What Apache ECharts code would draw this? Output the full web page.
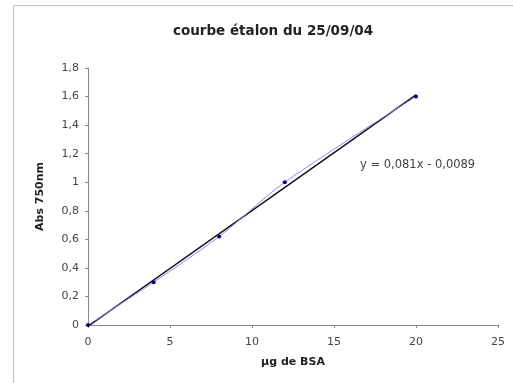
<!DOCTYPE html>
<html><head><meta charset="utf-8">
<script src="https://cdn.jsdelivr.net/npm/echarts@6/dist/echarts.min.js"></script>
<style>html,body{margin:0;padding:0;background:#fff}#c{width:513px;height:383px}</style>
</head><body><div id="c"></div>
<script>
var xValues = [0, 4, 8, 12, 20];
var yValues = [0, 0.3, 0.62, 1.0, 1.6];
var trendX = [0, 20];
var trendY = [-0.0089, 1.6111];
var titleText = 'courbe étalon du 25/09/04';
var equationText = 'y = 0,081x - 0,0089';
var xName = 'µg de BSA';
var yName = 'Abs 750nm';

var chart = echarts.init(document.getElementById('c'));
var font = 'DejaVu Sans, Verdana, sans-serif';
chart.setOption({
  animation: false,
  title: {text: titleText, left: 268, top: 19, textAlign: 'center',
    textStyle: {fontFamily: font, fontSize: 13.5, fontWeight: 'bold', color: '#222'}},
  graphic: [
    {type: 'rect', shape: {x: 13.5, y: 5.5, width: 520, height: 400}, style: {fill: 'none', stroke: '#c0c0c0', lineWidth: 1}, silent: true},
    {type: 'text', left: 360, top: 159, style: {text: equationText, font: '11.5px ' + font, fill: '#444'}}
  ],
  grid: {left: 88, right: 15, top: 68, bottom: 58},
  xAxis: {type: 'value', min: 0, max: 25, interval: 5,
    name: xName, nameLocation: 'middle', nameGap: 32,
    nameTextStyle: {fontFamily: font, fontSize: 11, fontWeight: 'bold', color: '#222'},
    axisLine: {lineStyle: {color: '#888'}}, axisTick: {show: true, lineStyle: {color: '#888'}, length: 3},
    axisLabel: {fontFamily: font, fontSize: 11, color: '#444', margin: 12},
    splitLine: {show: false}},
  yAxis: {type: 'value', min: 0, max: 1.8, interval: 0.2,
    name: yName, nameLocation: 'middle', nameGap: 42, nameRotate: 90,
    nameTextStyle: {fontFamily: font, fontSize: 11, fontWeight: 'bold', color: '#222'},
    axisLine: {show: true, lineStyle: {color: '#888'}}, axisTick: {show: true, lineStyle: {color: '#888'}, length: 3},
    axisLabel: {fontFamily: font, fontSize: 11, color: '#444', margin: 9,
      formatter: function(v){ return String(Math.round(v*10)/10).replace('.', ','); }},
    splitLine: {show: false}},
  series: [
    {type: 'line', data: trendX.map(function(x,i){return [x, trendY[i]];}),
      showSymbol: false, lineStyle: {color: '#111', width: 1.5}, z: 2},
    {type: 'line', data: xValues.map(function(x,i){return [x, yValues[i]];}),
      smooth: 0.3, symbol: 'circle', symbolSize: 4,
      itemStyle: {color: '#000080'}, lineStyle: {color: '#8888ee', width: 1}, z: 3}
  ]
});
</script></body></html>
